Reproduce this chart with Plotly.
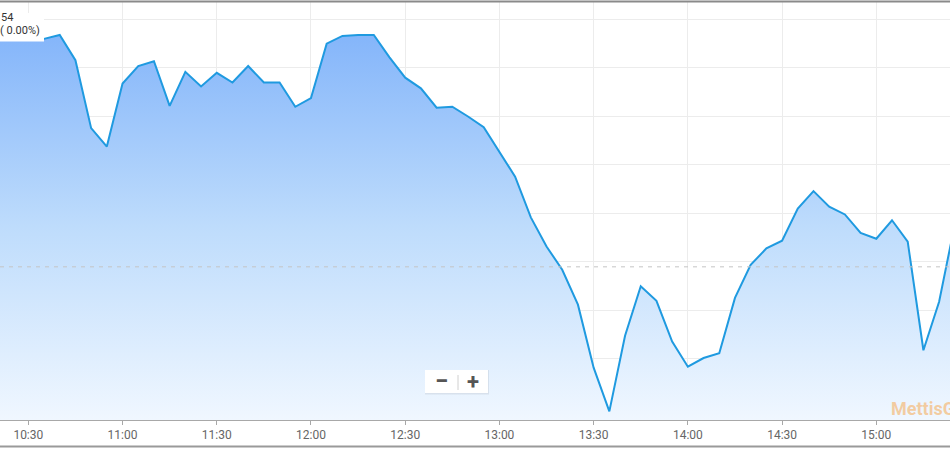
import plotly.graph_objects as go

DAY = "2021-03-01 "
times = ["10:20", "10:25", "10:30", "10:35", "10:40", "10:45", "10:50", "10:55",
         "11:00", "11:05", "11:10", "11:15", "11:20", "11:25", "11:30", "11:35",
         "11:40", "11:45", "11:50", "11:55", "12:00", "12:05", "12:10", "12:15",
         "12:20", "12:25", "12:30", "12:35", "12:40", "12:45", "12:50", "12:55",
         "13:00", "13:05", "13:10", "13:15", "13:20", "13:25", "13:30", "13:35",
         "13:40", "13:45", "13:50", "13:55", "14:00", "14:05", "14:10", "14:15",
         "14:20", "14:25", "14:30", "14:35", "14:40", "14:45", "14:50", "14:55",
         "15:00", "15:05", "15:10", "15:15", "15:20", "15:25"]
index_values = [40179, 40179, 40179, 40180, 40184, 40158, 40088, 40069,
                40134, 40152, 40157, 40111, 40146, 40131, 40145, 40135,
                40152, 40135, 40135, 40110, 40119, 40175, 40183, 40184,
                40184, 40161, 40140, 40129, 40109, 40110, 40100, 40089,
                40064, 40038, 39996, 39966, 39942, 39906, 39841, 39796,
                39874, 39925, 39910, 39868, 39842, 39851, 39856, 39913,
                39947, 39964, 39972, 40005, 40023, 40007, 39999, 39980,
                39974, 39993, 39971, 39859, 39909, 39989]
prev_close = 39945
tick_labels = ["10:30", "11:00", "11:30", "12:00", "12:30", "13:00", "13:30",
               "14:00", "14:30", "15:00"]
grid_values = [39800, 39850, 39900, 39950, 40000, 40050, 40100, 40150, 40200]
label_value = "54"
label_change = "( 0.00%)"

x = [DAY + t for t in times]
W, H = 950, 450
T, B = 2, 30
PH = H - T - B


def py(p):  # pixel y -> paper
    return (H - B - p) / PH


def px(p):
    return p / W


y_min, y_max = 39787.1, 40218.0

fig = go.Figure()
fig.add_trace(go.Scatter(
    x=x, y=index_values, mode="lines",
    line=dict(color="#1f9ae0", width=2),
    fill="tozeroy",
    fillgradient=dict(type="vertical", start=y_min, stop=40185,
                      colorscale=[[0, "rgb(240,247,255)"],
                                  [0.5, "rgb(190,220,252)"],
                                  [1, "rgb(132,181,250)"]]),
    hoverinfo="skip", showlegend=False,
))

fig.update_xaxes(
    type="date",
    range=[DAY + "10:20:59", DAY + "15:23:28"],
    tickmode="array",
    tickvals=[DAY + t for t in tick_labels],
    ticktext=tick_labels,
    showgrid=True, gridcolor="#ececec", gridwidth=1,
    showline=True, linecolor="#a8a8a8", linewidth=1,
    ticks="outside", ticklen=4, tickcolor="#a8a8a8",
    tickfont=dict(family="Roboto", size=12, color="#666666"),
    zeroline=False, fixedrange=True,
)
fig.update_yaxes(
    range=[y_min, y_max],
    tickmode="array", tickvals=grid_values,
    showticklabels=False,
    showgrid=True, gridcolor="#ececec", gridwidth=1,
    zeroline=False, showline=False, fixedrange=True,
)

shapes = [
    # previous close dashed line
    dict(type="line", xref="paper", yref="y", x0=0, x1=1,
         y0=prev_close, y1=prev_close,
         line=dict(color="#c4c4c4", width=1, dash="4px,5px"), layer="above"),
    # top border
    dict(type="line", xref="paper", yref="paper", x0=0, x1=1,
         y0=py(1.5), y1=py(1.5), line=dict(color="#8a8a8a", width=2)),
    # bottom border
    dict(type="line", xref="paper", yref="paper", x0=0, x1=1,
         y0=py(446.5), y1=py(446.5), line=dict(color="#9a9a9a", width=2)),
    # label box
    dict(type="rect", xref="paper", yref="paper", x0=px(-2), x1=px(44),
         y0=py(41.5), y1=py(13), fillcolor="white", line=dict(width=0),
         layer="above"),
    # zoom control shadow
    dict(type="rect", xref="paper", yref="paper", x0=px(425), x1=px(489),
         y0=py(394.5), y1=py(370), fillcolor="rgba(0,0,0,0.07)",
         line=dict(width=0), layer="above"),
    dict(type="rect", xref="paper", yref="paper", x0=px(425), x1=px(488),
         y0=py(393), y1=py(370), fillcolor="white",
         line=dict(width=0), layer="above"),
    dict(type="line", xref="paper", yref="paper", x0=px(458), x1=px(458),
         y0=py(390), y1=py(375), line=dict(color="#d0d0d0", width=1),
         layer="above"),
]

annotations = [
    dict(text=label_value, xref="paper", yref="paper", x=px(-1), y=py(17),
         xanchor="left", yanchor="middle", showarrow=False,
         font=dict(family="Roboto", size=11, color="#333333")),
    dict(text=label_change, xref="paper", yref="paper", x=px(-2), y=py(31),
         xanchor="left", yanchor="middle", showarrow=False,
         font=dict(family="Roboto", size=11, color="#333333")),
    dict(text="<b>−</b>", xref="paper", yref="paper", x=px(441), y=py(381),
         xanchor="center", yanchor="middle", showarrow=False,
         font=dict(family="Roboto", size=24, color="#555555")),
    dict(text="<b>+</b>", xref="paper", yref="paper", x=px(473), y=py(381),
         xanchor="center", yanchor="middle", showarrow=False,
         font=dict(family="Roboto", size=22, color="#555555")),
    dict(text="<b>MettisGlobal</b>", xref="paper", yref="paper", x=px(889),
         y=py(408), xanchor="left", yanchor="middle", showarrow=False,
         font=dict(family="Roboto", size=18, color="rgba(244,190,130,0.75)")),
]

fig.update_layout(
    width=W, height=H,
    margin=dict(l=0, r=0, t=T, b=B, pad=0),
    paper_bgcolor="white", plot_bgcolor="white",
    shapes=shapes, annotations=annotations,
    showlegend=False, hovermode=False,
)

fig.write_html("out.html", config={"displayModeBar": False},
               post_script="document.body.style.margin='0';"
                           "document.body.style.overflow='hidden';")
